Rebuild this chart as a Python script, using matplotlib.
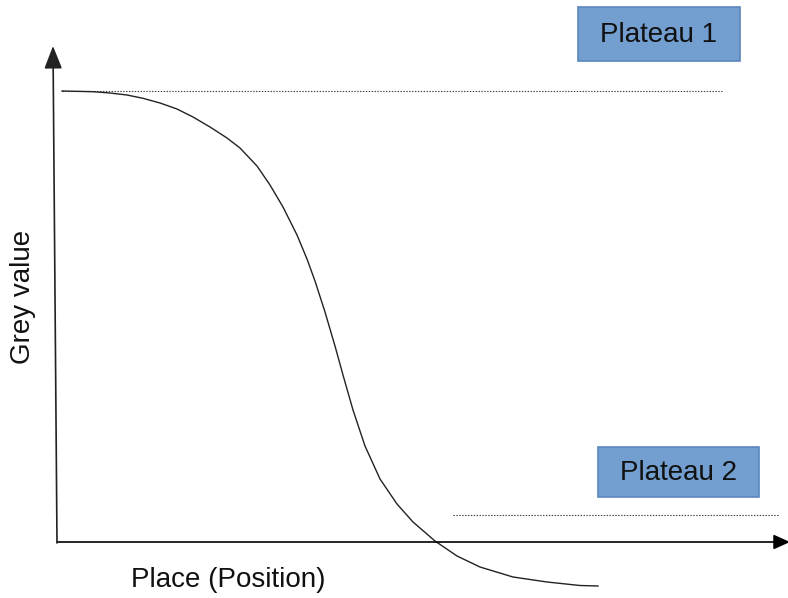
import matplotlib.pyplot as plt
from matplotlib.patches import Rectangle

plt.rcParams['font.family'] = ['Liberation Sans', 'DejaVu Sans']

# curve (pixel coords, y grows downward)
curve_x = [62, 93, 110, 127, 143, 160, 177, 193, 210, 227, 240, 257, 270,
           283, 297, 307, 315, 325, 335, 343, 353, 365, 380, 397, 413, 435,
           457, 480, 513, 547, 580, 598]
curve_y = [91, 91.7, 93, 95, 98.3, 103, 109, 117, 127, 138, 148, 166, 185,
           207, 235, 259, 281, 312, 346, 375, 410, 446, 479, 504, 522, 541,
           556, 567, 577, 582, 585.5, 586]

plateau_levels = [91, 515]
plateau_spans = [(62, 722), (453, 778)]
plateau_labels = ['Plateau 1', 'Plateau 2']

fig = plt.figure(figsize=(7.88, 5.98), dpi=100)
ax = fig.add_axes([0, 0, 1, 1])
ax.set_xlim(0, 788)
ax.set_ylim(598, 0)
ax.axis('off')

# axes arrows
ax.annotate('', xy=(790, 542), xytext=(57, 542), annotation_clip=False,
            arrowprops=dict(arrowstyle='-|>,head_length=10,head_width=4.5',
                            mutation_scale=1, lw=1.2, color='black',
                            shrinkA=0, shrinkB=0))
ax.annotate('', xy=(53, 46), xytext=(57, 543), annotation_clip=False,
            arrowprops=dict(arrowstyle='-|>,head_length=14,head_width=5.5',
                            mutation_scale=1, lw=1.2, color='#222222',
                            shrinkA=0, shrinkB=0))

# dotted plateau lines
for lvl, (x0, x1) in zip(plateau_levels, plateau_spans):
    ax.plot([x0, x1], [lvl, lvl], color='#444444', lw=0.8,
            linestyle=(0, (1.3, 1.3)))

ax.plot(curve_x, curve_y, color='#222222', lw=1.0, solid_joinstyle='round')

# label boxes
boxes = [(578, 7, 162, 54), (598, 447, 161, 50)]
for (bx, by, bw, bh), lab in zip(boxes, plateau_labels):
    ax.add_patch(Rectangle((bx, by), bw, bh, facecolor='#729fcf',
                           edgecolor='#5a86bd', lw=1.2))
    ax.text(bx + bw / 2, by + bh / 2 + 1, lab, ha='center', va='center',
            fontsize=20, color='#111111')

ax.text(228, 580, 'Place (Position)', ha='center', va='center', fontsize=20,
        color='#111111')
ax.text(23, 297, 'Grey value', ha='center', va='center', rotation=90,
        fontsize=20, color='#111111')

fig.savefig('out.png', dpi=100)
